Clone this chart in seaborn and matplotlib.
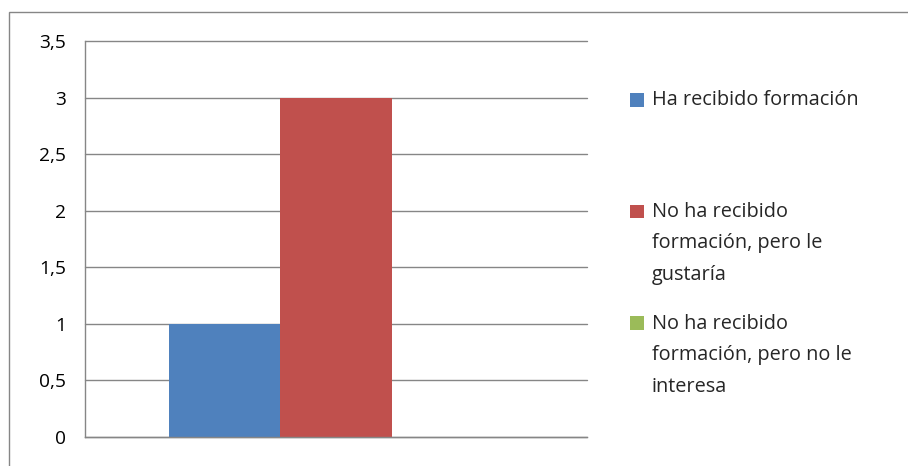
import numpy as np
import pandas as pd
import matplotlib.pyplot as plt
import matplotlib.patches as mpatches
from matplotlib.legend_handler import HandlerPatch
import seaborn as sns

# --- data ---
categoria = [""]
series = ["Ha recibido formación",
          "No ha recibido\nformación, pero le\ngustaría",
          "No ha recibido\nformación, pero no le\ninteresa"]
valores = [1, 3, 0]
colores = ["#4F81BD", "#C0504D", "#9BBB59"]
yticks = [0, 0.5, 1, 1.5, 2, 2.5, 3, 3.5]
ytick_labels = ["0", "0,5", "1", "1,5", "2", "2,5", "3", "3,5"]

df = pd.DataFrame({"cat": categoria * len(series), "serie": series, "valor": valores})

sns.set_style("white")
plt.rcParams["font.family"] = ["Open Sans", "DejaVu Sans"]
gris = "#868686"
fsize = 14.3

fig = plt.figure(figsize=(9.08, 4.66), dpi=100)
ax = fig.add_axes([85 / 908, 29 / 466, 502 / 908, 396 / 466])

sns.barplot(data=df, x="cat", y="valor", hue="serie", hue_order=series,
            palette=colores, width=2 / 3, gap=0, saturation=1,
            linewidth=0, edgecolor="none", legend=False, ax=ax)

ax.set_xlim(-0.5, 0.5)
ax.set_ylim(0, 3.5)
ax.set_yticks(yticks)
ax.set_yticklabels(ytick_labels)
ax.set_xticks([-0.5, 0.5])
ax.set_xticklabels(["", ""])
ax.set_xlabel("")
ax.set_ylabel("")

for s in ["top", "right"]:
    ax.spines[s].set_visible(False)
for s in ["left", "bottom"]:
    ax.spines[s].set_color(gris)
    ax.spines[s].set_linewidth(1)

ax.tick_params(axis="both", direction="out", length=6.5, width=1, color=gris,
               labelsize=13.8, labelcolor="black", pad=7)
ax.yaxis.grid(True, color=gris, linewidth=1)
ax.set_axisbelow(True)
for gl in ax.get_ygridlines():
    gl.set_clip_on(False)

# legend: square handle next to the first line of each label
shift = 23.4  # pt, one line up
def square_top(legend, orig_handle, xdescent, ydescent, width, height, fontsize):
    s = 10
    return mpatches.Rectangle((-xdescent + width - s, -ydescent + height / 2 - s / 2 + shift), s, s)

handles = [mpatches.Patch(facecolor=c, edgecolor="none") for c in colores]
labels = [series[0] + "\n\n"] + series[1:]
leg = fig.legend(handles, labels, loc="upper left",
                 bbox_to_anchor=(630 / 908, 1 - 90 / 466),
                 frameon=False, fontsize=fsize, borderpad=0, borderaxespad=0,
                 handlelength=10 / fsize, handletextpad=0.4, labelspacing=1.45,
                 handler_map={mpatches.Patch: HandlerPatch(patch_func=square_top)})
for t in leg.get_texts():
    t.set_linespacing(1.77)

# outer chart border (top and left visible in the reference)
fig.add_artist(mpatches.Rectangle((9 / 908, -0.1), 1.2, 1.1 - 12 / 466,
                                  transform=fig.transFigure, fill=False,
                                  edgecolor=gris, linewidth=1))

fig.savefig("out.png", dpi=100)
